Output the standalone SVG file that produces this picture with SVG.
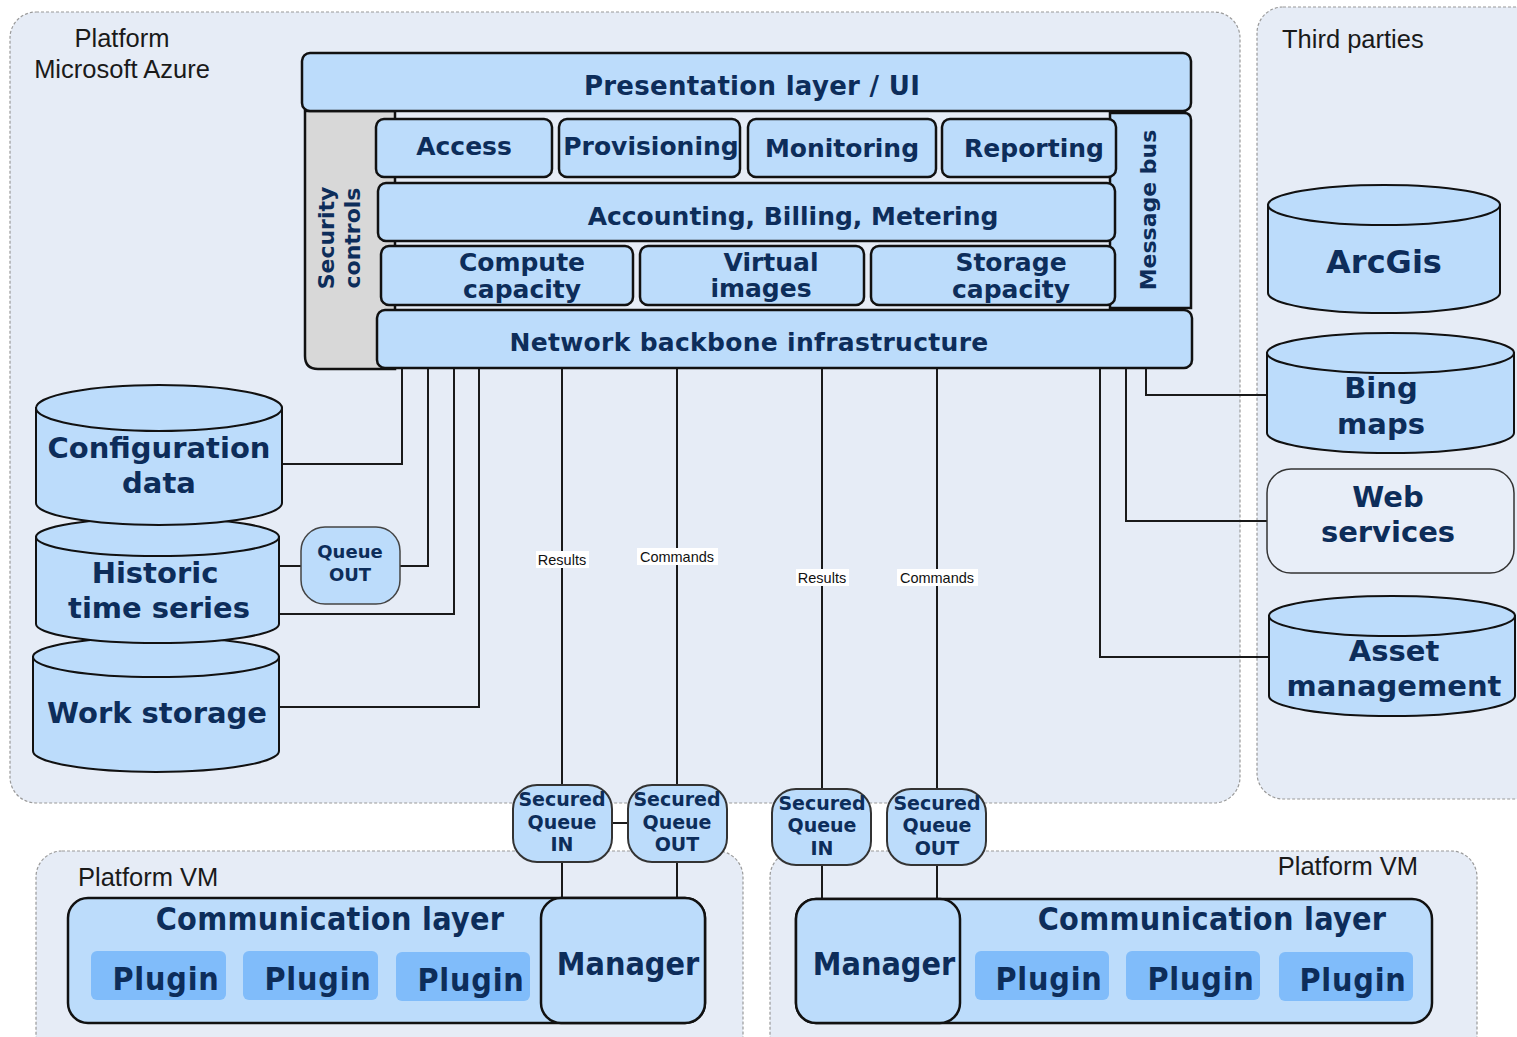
<svg xmlns="http://www.w3.org/2000/svg" width="1517" height="1037" viewBox="0 0 1517 1037">
<defs>
<style>
.cont{fill:#e6ecf6;stroke:#9a9a9a;stroke-width:1.2;stroke-dasharray:3 2}
.box{fill:#bcdcfb;stroke:#111;stroke-width:2.5}
.cyl{fill:#bcdcfb;stroke:#111;stroke-width:2}
.plug{fill:#80bcfa}
.t{font-family:"DejaVu Sans",Verdana,sans-serif;font-weight:bold;fill:#0d2d5a;text-anchor:middle}
.tc{font-family:"DejaVu Sans Condensed","DejaVu Sans",sans-serif;font-stretch:condensed;font-weight:bold;fill:#0d2d5a;text-anchor:middle}
.lbl{font-family:"Liberation Sans",Arial,sans-serif;font-size:25.5px;fill:#1a1a1a}
.sm{font-family:"Liberation Sans",Arial,sans-serif;font-size:14.5px;fill:#111;text-anchor:middle}
.ln{fill:none;stroke:#1a1a1a;stroke-width:2}
</style>
</defs>
<rect width="1517" height="1037" fill="#ffffff"/>

<!-- containers -->
<g id="azure">
<rect class="cont" x="10" y="12" width="1230" height="791" rx="26"/>
<text class="lbl" x="122" y="47" text-anchor="middle">Platform</text>
<text class="lbl" x="122" y="78" text-anchor="middle">Microsoft Azure</text>
</g>
<g id="thirdparties">
<rect class="cont" x="1257" y="7" width="290" height="792" rx="26"/>
<text class="lbl" x="1282" y="48">Third parties</text>
</g>
<g id="vm-left">
<rect class="cont" x="36" y="851" width="707" height="220" rx="26"/>
<text class="lbl" x="78" y="886">Platform VM</text>
</g>
<g id="vm-right">
<rect class="cont" x="770" y="851" width="707" height="220" rx="26"/>
<text class="lbl" x="1418" y="875" text-anchor="end">Platform VM</text>
</g>

<!-- connectors -->
<g id="connectors">
<polyline class="ln" points="402,368 402,464 282,464"/>
<polyline class="ln" points="428,368 428,566 400,566"/>
<line class="ln" x1="301" y1="566" x2="280" y2="566"/>
<polyline class="ln" points="454,368 454,614 279,614"/>
<polyline class="ln" points="479,368 479,707 279,707"/>
<line class="ln" x1="562" y1="368" x2="562" y2="785"/>
<line class="ln" x1="677" y1="368" x2="677" y2="785"/>
<line class="ln" x1="822" y1="368" x2="822" y2="789"/>
<line class="ln" x1="937" y1="368" x2="937" y2="789"/>
<polyline class="ln" points="1100,368 1100,657 1269,657"/>
<polyline class="ln" points="1126,368 1126,521 1267,521"/>
<polyline class="ln" points="1146,368 1146,395 1268,395"/>
<line class="ln" x1="612" y1="823" x2="628" y2="823"/>
<line class="ln" x1="562" y1="862" x2="562" y2="899"/>
<line class="ln" x1="677" y1="862" x2="677" y2="899"/>
<line class="ln" x1="822" y1="865" x2="822" y2="899"/>
<line class="ln" x1="937" y1="865" x2="937" y2="899"/>
<rect x="536" y="551" width="53" height="17" fill="#fff"/>
<text class="sm" x="562" y="565">Results</text>
<rect x="637" y="548" width="81" height="17" fill="#fff"/>
<text class="sm" x="677" y="562">Commands</text>
<rect x="796" y="569" width="53" height="17" fill="#fff"/>
<text class="sm" x="822" y="583">Results</text>
<rect x="897" y="569" width="81" height="17" fill="#fff"/>
<text class="sm" x="937" y="583">Commands</text>
</g>

<!-- platform stack -->
<g id="security-controls">
<path d="M305,111 H395 V369 H318 Q305,369 305,356 Z" fill="#d8d8d8" stroke="#111" stroke-width="2.5"/>
<text class="t" font-size="22" transform="translate(334,238) rotate(-90)">Security</text>
<text class="t" font-size="22" transform="translate(360,238) rotate(-90)">controls</text>
</g>
<g id="message-bus">
<path d="M1110,113 H1184 Q1191,113 1191,120 V308 H1110 Z" class="box"/>
<text class="t" font-size="22" transform="translate(1156,210) rotate(-90)">Message bus</text>
</g>
<g id="presentation">
<rect class="box" x="302" y="53" width="889" height="58" rx="8"/>
<text class="t" font-size="26" x="752" y="95" letter-spacing="0.3">Presentation layer / UI</text>
</g>
<g id="access">
<rect class="box" x="376" y="119" width="176" height="58" rx="8"/>
<text class="t" font-size="25" x="464" y="155">Access</text>
</g>
<g id="provisioning">
<rect class="box" x="559" y="119" width="181" height="58" rx="8"/>
<text class="t" font-size="25" x="651" y="155">Provisioning</text>
</g>
<g id="monitoring">
<rect class="box" x="748" y="119" width="188" height="58" rx="8"/>
<text class="t" font-size="25" x="842" y="157">Monitoring</text>
</g>
<g id="reporting">
<rect class="box" x="942" y="119" width="174" height="58" rx="8"/>
<text class="t" font-size="25" x="1034" y="157">Reporting</text>
</g>
<g id="accounting">
<rect class="box" x="378" y="183" width="737" height="58" rx="8"/>
<text class="t" font-size="25" x="793" y="225">Accounting, Billing, Metering</text>
</g>
<g id="compute">
<rect class="box" x="381" y="246" width="252" height="59" rx="8"/>
<text class="t" font-size="25" x="522" y="271">Compute</text>
<text class="t" font-size="25" x="522" y="298">capacity</text>
</g>
<g id="virtual">
<rect class="box" x="640" y="246" width="224" height="59" rx="8"/>
<text class="t" font-size="25" x="771" y="271">Virtual</text>
<text class="t" font-size="25" x="761" y="297">images</text>
</g>
<g id="storage">
<rect class="box" x="871" y="246" width="244" height="59" rx="8"/>
<text class="t" font-size="25" x="1011" y="271">Storage</text>
<text class="t" font-size="25" x="1011" y="298">capacity</text>
</g>
<g id="network">
<rect class="box" x="377" y="310" width="815" height="58" rx="8"/>
<text class="t" font-size="25" x="749" y="351" letter-spacing="0.3">Network backbone infrastructure</text>
</g>

<!-- storage cylinders -->
<g id="work-storage">
<path class="cyl" d="M33,657 V751 A123,21 0 0 0 279,751 V657 Z"/>
<ellipse class="cyl" cx="156" cy="657" rx="123" ry="20"/>
<text class="t" font-size="29" x="157" y="723">Work storage</text>
</g>
<g id="historic">
<path class="cyl" d="M36,537 V624 A121.5,19 0 0 0 279,624 V537 Z"/>
<ellipse class="cyl" cx="157.5" cy="537" rx="121.5" ry="19"/>
<text class="t" font-size="29" x="155" y="583">Historic</text>
<text class="t" font-size="29" x="159" y="618">time series</text>
</g>
<g id="config">
<path class="cyl" d="M36,408 V503 A123,22 0 0 0 282,503 V408 Z"/>
<ellipse class="cyl" cx="159" cy="408" rx="123" ry="23"/>
<text class="t" font-size="29" x="159" y="458">Configuration</text>
<text class="t" font-size="29" x="159" y="493">data</text>
</g>
<g id="queue-out">
<rect x="301" y="527" width="99" height="77" rx="24" fill="#bcdcfb" stroke="#444" stroke-width="1.5"/>
<text class="t" font-size="18" x="350" y="558">Queue</text>
<text class="t" font-size="18" x="350" y="581" font-weight="normal">OUT</text>
</g>

<!-- third parties -->
<g id="arcgis">
<path class="cyl" d="M1268,205 V293 A116,20 0 0 0 1500,293 V205 Z"/>
<ellipse class="cyl" cx="1384" cy="205" rx="116" ry="20"/>
<text class="t" font-size="32" x="1384" y="273">ArcGis</text>
</g>
<g id="bing">
<path class="cyl" d="M1267,353 V433 A123.5,20 0 0 0 1514,433 V353 Z"/>
<ellipse class="cyl" cx="1390.5" cy="353" rx="123.5" ry="20"/>
<text class="t" font-size="29" x="1381" y="398">Bing</text>
<text class="t" font-size="29" x="1381" y="434">maps</text>
</g>
<g id="web-services">
<rect x="1267" y="469" width="247" height="104" rx="24" fill="#e8eef8" stroke="#333" stroke-width="1.5"/>
<text class="t" font-size="29" x="1388" y="507">Web</text>
<text class="t" font-size="29" x="1388" y="542">services</text>
</g>
<g id="asset">
<path class="cyl" d="M1269,616 V696 A123,20 0 0 0 1515,696 V616 Z"/>
<ellipse class="cyl" cx="1392" cy="616" rx="123" ry="20"/>
<text class="t" font-size="29" x="1394" y="661">Asset</text>
<text class="t" font-size="29" x="1394" y="696">management</text>
</g>

<!-- secured queues -->
<g id="sq-in-left">
<rect x="513" y="785" width="99" height="77" rx="24" fill="#bcdcfb" stroke="#333" stroke-width="2"/>
<text class="t" font-size="19" x="562" y="806">Secured</text>
<text class="t" font-size="19" x="562" y="829">Queue</text>
<text class="t" font-size="19" x="562" y="851">IN</text>
</g>
<g id="sq-out-left">
<rect x="628" y="785" width="99" height="77" rx="24" fill="#bcdcfb" stroke="#333" stroke-width="2"/>
<text class="t" font-size="19" x="677" y="806">Secured</text>
<text class="t" font-size="19" x="677" y="829">Queue</text>
<text class="t" font-size="19" x="677" y="851">OUT</text>
</g>
<g id="sq-in-right">
<rect x="772" y="789" width="99" height="76" rx="24" fill="#bcdcfb" stroke="#333" stroke-width="2"/>
<text class="t" font-size="19" x="822" y="810">Secured</text>
<text class="t" font-size="19" x="822" y="832">Queue</text>
<text class="t" font-size="19" x="822" y="855">IN</text>
</g>
<g id="sq-out-right">
<rect x="887" y="789" width="99" height="76" rx="24" fill="#bcdcfb" stroke="#333" stroke-width="2"/>
<text class="t" font-size="19" x="937" y="810">Secured</text>
<text class="t" font-size="19" x="937" y="832">Queue</text>
<text class="t" font-size="19" x="937" y="855">OUT</text>
</g>

<!-- VM left -->
<g id="comm-left">
<rect class="box" x="68" y="898" width="637" height="125" rx="20"/>
<text class="tc" font-size="32" x="330" y="930" letter-spacing="0.3">Communication layer</text>
<rect class="plug" x="91" y="951" width="135" height="49" rx="6"/>
<text class="tc" font-size="32" x="166" y="990" letter-spacing="0.8">Plugin</text>
<rect class="plug" x="243" y="951" width="135" height="49" rx="6"/>
<text class="tc" font-size="32" x="318" y="990" letter-spacing="0.8">Plugin</text>
<rect class="plug" x="396" y="952" width="134" height="49" rx="6"/>
<text class="tc" font-size="32" x="471" y="991" letter-spacing="0.8">Plugin</text>
</g>
<g id="manager-left">
<rect class="box" x="541" y="898" width="164" height="125" rx="20"/>
<text class="tc" font-size="32" x="628" y="975">Manager</text>
</g>

<!-- VM right -->
<g id="comm-right">
<rect class="box" x="796" y="899" width="636" height="124" rx="20"/>
<text class="tc" font-size="32" x="1212" y="930" letter-spacing="0.3">Communication layer</text>
<rect class="plug" x="975" y="951" width="134" height="49" rx="6"/>
<text class="tc" font-size="32" x="1049" y="990" letter-spacing="0.8">Plugin</text>
<rect class="plug" x="1126" y="951" width="134" height="49" rx="6"/>
<text class="tc" font-size="32" x="1201" y="990" letter-spacing="0.8">Plugin</text>
<rect class="plug" x="1279" y="952" width="134" height="49" rx="6"/>
<text class="tc" font-size="32" x="1353" y="991" letter-spacing="0.8">Plugin</text>
</g>
<g id="manager-right">
<rect class="box" x="796" y="899" width="164" height="124" rx="20"/>
<text class="tc" font-size="32" x="884" y="975">Manager</text>
</g>
</svg>
